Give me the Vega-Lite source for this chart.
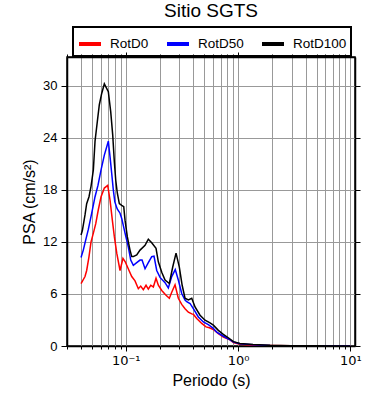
{
  "$schema": "https://vega.github.io/schema/vega-lite/v6.json",
  "width": 288,
  "height": 289,
  "autosize": {"type": "none"},
  "padding": {"left": 67, "top": 57, "right": 35, "bottom": 54},
  "title": {"text": "Sitio SGTS", "fontSize": 19, "font": "Liberation Sans", "fontWeight": "normal", "color": "black", "offset": 5, "anchor": "middle"},
  "config": {
    "font": "Liberation Sans",
    "view": {"stroke": "black", "strokeWidth": 1.5},
    "axis": {"domainColor": "black", "domainWidth": 1.5, "tickColor": "black", "labelColor": "black", "titleColor": "black", "gridColor": "#999999", "gridWidth": 1, "gridOpacity": 1}
  },
  "data": {"values": [
    {"s":"RotD0","p":0.0400,"v":7.2},{"s":"RotD0","p":0.0434,"v":8.0},{"s":"RotD0","p":0.0449,"v":8.7},{"s":"RotD0","p":0.0471,"v":10.3},{"s":"RotD0","p":0.0491,"v":12.0},{"s":"RotD0","p":0.0515,"v":13.0},{"s":"RotD0","p":0.0541,"v":14.1},{"s":"RotD0","p":0.0570,"v":15.7},{"s":"RotD0","p":0.0603,"v":17.2},{"s":"RotD0","p":0.0645,"v":18.2},{"s":"RotD0","p":0.0691,"v":18.5},{"s":"RotD0","p":0.0725,"v":16.8},{"s":"RotD0","p":0.0760,"v":14.5},{"s":"RotD0","p":0.0792,"v":12.6},{"s":"RotD0","p":0.0832,"v":10.7},{"s":"RotD0","p":0.0890,"v":8.7},{"s":"RotD0","p":0.0945,"v":10.1},{"s":"RotD0","p":0.0990,"v":9.7},{"s":"RotD0","p":0.1070,"v":8.7},{"s":"RotD0","p":0.1131,"v":8.0},{"s":"RotD0","p":0.1210,"v":7.5},{"s":"RotD0","p":0.1295,"v":6.6},{"s":"RotD0","p":0.1360,"v":6.9},{"s":"RotD0","p":0.1434,"v":6.5},{"s":"RotD0","p":0.1516,"v":7.0},{"s":"RotD0","p":0.1589,"v":6.55},{"s":"RotD0","p":0.1670,"v":7.0},{"s":"RotD0","p":0.1761,"v":6.8},{"s":"RotD0","p":0.1861,"v":7.8},{"s":"RotD0","p":0.1951,"v":7.0},{"s":"RotD0","p":0.2092,"v":6.4},{"s":"RotD0","p":0.2285,"v":5.85},{"s":"RotD0","p":0.2445,"v":5.5},{"s":"RotD0","p":0.2568,"v":6.2},{"s":"RotD0","p":0.2748,"v":7.05},{"s":"RotD0","p":0.2940,"v":5.5},{"s":"RotD0","p":0.3152,"v":4.8},{"s":"RotD0","p":0.3373,"v":4.3},{"s":"RotD0","p":0.3610,"v":3.9},{"s":"RotD0","p":0.3871,"v":3.7},{"s":"RotD0","p":0.3999,"v":3.66},{"s":"RotD0","p":0.4288,"v":3.16},{"s":"RotD0","p":0.4752,"v":2.6},{"s":"RotD0","p":0.5188,"v":2.2},{"s":"RotD0","p":0.5553,"v":2.1},{"s":"RotD0","p":0.6027,"v":1.9},{"s":"RotD0","p":0.6677,"v":1.43},{"s":"RotD0","p":0.7399,"v":1.04},{"s":"RotD0","p":0.8486,"v":0.7},{"s":"RotD0","p":0.91,"v":0.4},{"s":"RotD0","p":1.04,"v":0.2},{"s":"RotD0","p":1.36,"v":0.1},{"s":"RotD0","p":1.93,"v":0.06},{"s":"RotD0","p":3,"v":0.03},{"s":"RotD0","p":5,"v":0.015},{"s":"RotD0","p":10,"v":0.01},
    {"s":"RotD50","p":0.0400,"v":10.2},{"s":"RotD50","p":0.0419,"v":11.05},{"s":"RotD50","p":0.0440,"v":12.2},{"s":"RotD50","p":0.0464,"v":13.4},{"s":"RotD50","p":0.0498,"v":15.3},{"s":"RotD50","p":0.0533,"v":17.2},{"s":"RotD50","p":0.0566,"v":18.5},{"s":"RotD50","p":0.0603,"v":20.3},{"s":"RotD50","p":0.0645,"v":22.0},{"s":"RotD50","p":0.0700,"v":23.6},{"s":"RotD50","p":0.0725,"v":21.8},{"s":"RotD50","p":0.0750,"v":19.9},{"s":"RotD50","p":0.0775,"v":18.0},{"s":"RotD50","p":0.0800,"v":16.6},{"s":"RotD50","p":0.0840,"v":15.8},{"s":"RotD50","p":0.0890,"v":15.3},{"s":"RotD50","p":0.0921,"v":14.7},{"s":"RotD50","p":0.0986,"v":13.0},{"s":"RotD50","p":0.1055,"v":11.4},{"s":"RotD50","p":0.1108,"v":9.9},{"s":"RotD50","p":0.1169,"v":9.3},{"s":"RotD50","p":0.1253,"v":9.6},{"s":"RotD50","p":0.1341,"v":9.9},{"s":"RotD50","p":0.1397,"v":9.9},{"s":"RotD50","p":0.1486,"v":8.9},{"s":"RotD50","p":0.1589,"v":9.6},{"s":"RotD50","p":0.1704,"v":10.3},{"s":"RotD50","p":0.1786,"v":10.35},{"s":"RotD50","p":0.1888,"v":8.7},{"s":"RotD50","p":0.2020,"v":7.9},{"s":"RotD50","p":0.2239,"v":7.3},{"s":"RotD50","p":0.2395,"v":6.7},{"s":"RotD50","p":0.2568,"v":8.0},{"s":"RotD50","p":0.2760,"v":8.8},{"s":"RotD50","p":0.2940,"v":7.6},{"s":"RotD50","p":0.3152,"v":6.05},{"s":"RotD50","p":0.3373,"v":5.3},{"s":"RotD50","p":0.3493,"v":5.1},{"s":"RotD50","p":0.3738,"v":4.9},{"s":"RotD50","p":0.3999,"v":4.3},{"s":"RotD50","p":0.4432,"v":3.35},{"s":"RotD50","p":0.4910,"v":2.77},{"s":"RotD50","p":0.5440,"v":2.47},{"s":"RotD50","p":0.5953,"v":2.1},{"s":"RotD50","p":0.6462,"v":1.6},{"s":"RotD50","p":0.7160,"v":1.24},{"s":"RotD50","p":0.7930,"v":0.92},{"s":"RotD50","p":0.85,"v":0.7},{"s":"RotD50","p":0.91,"v":0.45},{"s":"RotD50","p":1.04,"v":0.25},{"s":"RotD50","p":1.36,"v":0.14},{"s":"RotD50","p":1.93,"v":0.07},{"s":"RotD50","p":3,"v":0.04},{"s":"RotD50","p":5,"v":0.02},{"s":"RotD50","p":10,"v":0.01},
    {"s":"RotD100","p":0.0400,"v":12.8},{"s":"RotD100","p":0.0411,"v":13.3},{"s":"RotD100","p":0.0434,"v":15.1},{"s":"RotD100","p":0.0449,"v":16.4},{"s":"RotD100","p":0.0471,"v":17.2},{"s":"RotD100","p":0.0491,"v":18.4},{"s":"RotD100","p":0.0515,"v":20.3},{"s":"RotD100","p":0.0533,"v":23.6},{"s":"RotD100","p":0.0559,"v":25.9},{"s":"RotD100","p":0.0582,"v":27.8},{"s":"RotD100","p":0.0611,"v":29.1},{"s":"RotD100","p":0.0645,"v":30.2},{"s":"RotD100","p":0.0700,"v":29.3},{"s":"RotD100","p":0.0735,"v":27.0},{"s":"RotD100","p":0.0766,"v":24.3},{"s":"RotD100","p":0.0792,"v":21.2},{"s":"RotD100","p":0.0815,"v":19.1},{"s":"RotD100","p":0.0842,"v":17.6},{"s":"RotD100","p":0.0877,"v":16.4},{"s":"RotD100","p":0.0921,"v":16.2},{"s":"RotD100","p":0.0960,"v":16.05},{"s":"RotD100","p":0.0986,"v":14.5},{"s":"RotD100","p":0.1033,"v":12.6},{"s":"RotD100","p":0.1092,"v":11.05},{"s":"RotD100","p":0.1131,"v":10.3},{"s":"RotD100","p":0.1169,"v":10.3},{"s":"RotD100","p":0.1253,"v":10.5},{"s":"RotD100","p":0.1341,"v":11.05},{"s":"RotD100","p":0.1486,"v":11.6},{"s":"RotD100","p":0.1589,"v":12.3},{"s":"RotD100","p":0.1704,"v":11.9},{"s":"RotD100","p":0.1861,"v":11.25},{"s":"RotD100","p":0.1951,"v":9.7},{"s":"RotD100","p":0.2092,"v":8.5},{"s":"RotD100","p":0.2239,"v":7.6},{"s":"RotD100","p":0.2445,"v":7.2},{"s":"RotD100","p":0.2621,"v":9.1},{"s":"RotD100","p":0.2805,"v":10.7},{"s":"RotD100","p":0.3001,"v":9.1},{"s":"RotD100","p":0.3180,"v":7.0},{"s":"RotD100","p":0.3373,"v":5.5},{"s":"RotD100","p":0.3610,"v":5.3},{"s":"RotD100","p":0.3871,"v":5.5},{"s":"RotD100","p":0.4141,"v":4.5},{"s":"RotD100","p":0.4589,"v":3.55},{"s":"RotD100","p":0.5083,"v":2.97},{"s":"RotD100","p":0.5632,"v":2.66},{"s":"RotD100","p":0.6027,"v":2.4},{"s":"RotD100","p":0.6677,"v":1.8},{"s":"RotD100","p":0.7399,"v":1.35},{"s":"RotD100","p":0.8194,"v":0.95},{"s":"RotD100","p":0.91,"v":0.5},{"s":"RotD100","p":1.04,"v":0.28},{"s":"RotD100","p":1.36,"v":0.16},{"s":"RotD100","p":1.93,"v":0.08},{"s":"RotD100","p":3,"v":0.04},{"s":"RotD100","p":5,"v":0.02},{"s":"RotD100","p":10,"v":0.01}
  ]},
  "layer": [
    {
      "mark": {"type": "line", "strokeWidth": 1.5, "clip": true},
      "encoding": {
        "x": {"field": "p", "type": "quantitative",
          "scale": {"type": "log", "domain": [0.03, 11], "nice": false},
          "axis": {"orient": "bottom", "title": "Periodo (s)", "titleFontSize": 16, "titleFontWeight": "normal", "titlePadding": 5,
            "values": [0.03,0.04,0.05,0.06,0.07,0.08,0.09,0.1,0.2,0.3,0.4,0.5,0.6,0.7,0.8,0.9,1,2,3,4,5,6,7,8,9,10],
            "labelExpr": "datum.value == 0.1 ? '10\u207b\u00b9' : datum.value == 1 ? '10\u2070' : datum.value == 10 ? '10\u00b9' : ''",
            "labelOverlap": false, "labelFontSize": 13, "labelPadding": 3, "labelFlush": false, "labelFont": "DejaVu Sans",
            "tickSize": {"condition": {"test": "datum.value == 0.1 || datum.value == 1 || datum.value == 10", "value": 5}, "value": 3},
            "grid": true}},
        "y": {"field": "v", "type": "quantitative",
          "scale": {"domain": [0, 33.3], "nice": false},
          "axis": {"orient": "left", "title": "PSA (cm/s\u00b2)", "titleFontSize": 16, "titleFontWeight": "normal", "titlePadding": 5,
            "values": [0, 6, 12, 18, 24, 30], "labelFontSize": 13, "tickSize": 6, "labelPadding": 4, "grid": true}},
        "color": {"field": "s", "type": "nominal",
          "scale": {"domain": ["RotD0", "RotD50", "RotD100"], "range": ["#ff0000", "#0000ff", "#000000"]},
          "legend": {"title": null, "orient": "none", "legendX": 6, "legendY": -30, "direction": "horizontal",
            "symbolType": "stroke", "symbolSize": 484, "symbolStrokeWidth": 4, "labelFontSize": 13.5, "labelColor": "black",
            "labelOffset": 7, "columnPadding": 10, "padding": 4, "strokeColor": "black",
            "encode": {"legend": {"update": {"strokeWidth": {"value": 2}}}}}}
      }
    },
    {
      "mark": {"type": "point", "opacity": 0},
      "encoding": {
        "x": {"field": "p", "type": "quantitative",
          "axis": {"orient": "top", "title": null, "labels": false, "grid": false,
            "values": [0.03,0.04,0.05,0.06,0.07,0.08,0.09,0.1,0.2,0.3,0.4,0.5,0.6,0.7,0.8,0.9,1,2,3,4,5,6,7,8,9,10],
            "tickSize": {"condition": {"test": "datum.value == 0.1 || datum.value == 1 || datum.value == 10", "value": 5}, "value": 3}}},
        "y": {"field": "v", "type": "quantitative",
          "axis": {"orient": "right", "title": null, "labels": false, "grid": false, "values": [0, 6, 12, 18, 24, 30], "tickSize": 5}}
      }
    }
  ],
  "resolve": {"axis": {"x": "independent", "y": "independent"}}
}
